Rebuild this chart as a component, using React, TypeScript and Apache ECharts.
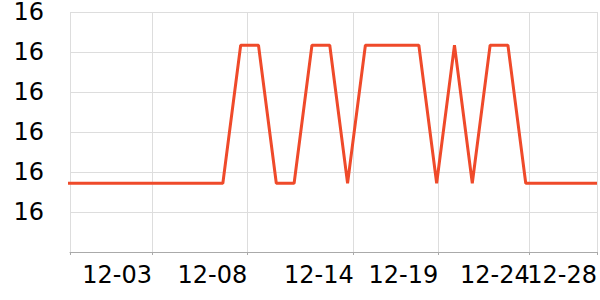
import React, { useEffect, useRef } from "react";
import * as echarts from "echarts";

// Daily dates (Nov 28 .. Dec 28)
const dates: string[] = [
  "2024-11-28", "2024-11-29", "2024-11-30", "2024-12-01", "2024-12-02",
  "2024-12-03", "2024-12-04", "2024-12-05", "2024-12-06", "2024-12-07",
  "2024-12-08", "2024-12-09", "2024-12-10", "2024-12-11", "2024-12-12",
  "2024-12-13", "2024-12-14", "2024-12-15", "2024-12-16", "2024-12-17",
  "2024-12-18", "2024-12-19", "2024-12-20", "2024-12-21", "2024-12-22",
  "2024-12-23", "2024-12-24", "2024-12-25", "2024-12-26", "2024-12-27",
  "2024-12-28",
];

const values: number[] = [
  16.0172, 16.0172, 16.0172, 16.0172, 16.0172,
  16.0172, 16.0172, 16.0172, 16.0172, 16.0172,
  16.0517, 16.0517, 16.0172, 16.0172, 16.0517,
  16.0517, 16.0172, 16.0517, 16.0517, 16.0517,
  16.0517, 16.0172, 16.0517, 16.0172, 16.0517,
  16.0517, 16.0172, 16.0172, 16.0172, 16.0172,
  16.0172,
];

// Axis range and tick times
const xMin = "2024-11-28T10:06";
const xMax = "2024-12-28T00:06";
const xTickTimes: string[] = [
  "2024-11-28T10:06",
  "2024-12-03T00:30",
  "2024-12-08T08:55",
  "2024-12-14T08:15",
  "2024-12-19T02:05",
  "2024-12-24T05:20",
  "2024-12-27T23:59",
];
const xLabelTimes: string[] = xTickTimes.slice(1);
const xLabelTexts: string[] = ["12-03", "12-08", "12-14", "12-19", "12-24", "12-28"];

const yMin = 16.0;
const yMax = 16.06;
const yInterval = 0.01;

// hours since a fixed origin, to keep numbers small on a value axis
const ORIGIN = Date.UTC(2024, 10, 1);
const toH = (s: string) => {
  const [d, t] = s.split("T");
  const [y, m, dd] = d.split("-").map(Number);
  let hh = 0, mm = 0;
  if (t) {
    const parts = t.split(":").map(Number);
    hh = parts[0];
    mm = parts[1];
  }
  return (Date.UTC(y, m - 1, dd, hh, mm) - ORIGIN) / 3600000;
};

export default function App() {
  const ref = useRef<HTMLDivElement>(null);
  useEffect(() => {
    document.body.style.margin = "0";
    if (!ref.current) return;
    const chart = echarts.init(ref.current, undefined, { renderer: "svg" });
    const font = "DejaVu Sans";
    const labelVals = xLabelTimes.map(toH);
    const labelFor = (v: number) => {
      let best = 0;
      for (let i = 1; i < labelVals.length; i++) {
        if (Math.abs(labelVals[i] - v) < Math.abs(labelVals[best] - v)) best = i;
      }
      return xLabelTexts[best];
    };
    const labelStyle = {
      formatter: labelFor,
      align: "right",
      fontSize: 24,
      fontFamily: font,
      color: "#000000",
      margin: 11,
      hideOverlap: false,
    };
    chart.setOption({
      animation: false,
      grid: { left: 70, right: 0, top: 10, bottom: 48, containLabel: false },
      xAxis: [
        {
          type: "value",
          position: "bottom",
          min: toH(xMin),
          max: toH(xMax),
          axisLine: { show: true, lineStyle: { color: "#aaaaaa", width: 1 } },
          axisTick: {
            show: true,
            length: 3,
            customValues: xTickTimes.map(toH),
            lineStyle: { color: "#aaaaaa" },
          },
          splitLine: { show: true, lineStyle: { color: "#dddddd", width: 1 } },
          axisLabel: { ...labelStyle, customValues: labelVals.slice(0, -1) },
        },
        {
          type: "value",
          position: "bottom",
          offset: 0,
          min: toH(xMin),
          max: toH(xMax),
          axisLine: { show: false },
          axisTick: { show: false },
          splitLine: { show: false },
          axisLabel: { ...labelStyle, customValues: labelVals.slice(-1) },
        },
      ],
      yAxis: {
        type: "value",
        min: yMin,
        max: yMax,
        interval: yInterval,
        axisLine: { show: false },
        axisTick: { show: false },
        splitLine: { show: true, lineStyle: { color: "#dddddd", width: 1 } },
        axisLabel: {
          showMinLabel: false,
          formatter: (v: number) => String(Math.round(v)),
          fontSize: 24,
          fontFamily: font,
          color: "#000000",
          margin: 26,
        },
      },
      series: [
        {
          type: "line",
          xAxisIndex: 0,
          data: dates.map((d, i) => [toH(d), values[i]]),
          showSymbol: false,
          symbol: "none",
          lineStyle: { color: "#ef4a2a", width: 3 },
          itemStyle: { color: "#ef4a2a" },
          clip: true,
        },
      ],
    });
    return () => chart.dispose();
  }, []);
  return <div ref={ref} style={{ width: 600, height: 300 }} />;
}
